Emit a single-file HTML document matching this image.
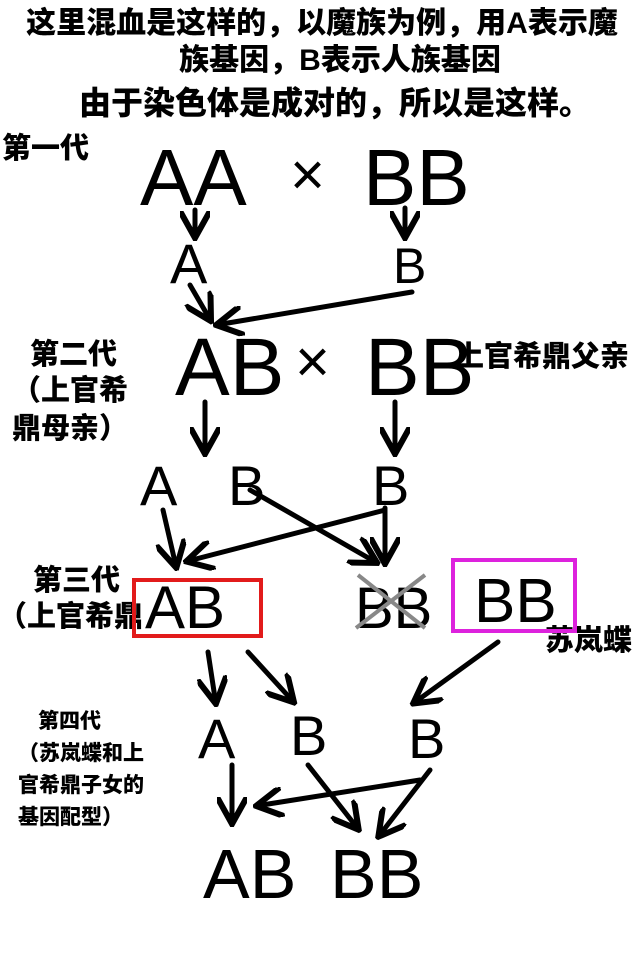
<!DOCTYPE html>
<html><head><meta charset="utf-8"><style>
html,body{margin:0;padding:0;background:#fff;width:640px;height:960px;overflow:hidden}
svg{display:block}
.cn{font-family:"Liberation Sans","Noto Sans CJK SC",sans-serif;font-weight:900;fill:#000}
.L{font-family:"Liberation Sans",sans-serif;fill:#000}
</style></head><body>
<svg width="640" height="960" viewBox="0 0 640 960" xmlns="http://www.w3.org/2000/svg">
<defs><marker id="ah" viewBox="0 0 10 10" refX="7" refY="5" markerWidth="6" markerHeight="6" orient="auto"><path d="M0,0 L9,5 L0,10" fill="none" stroke="#000" stroke-width="2"/></marker></defs>
<text class="cn" x="322" y="33" font-size="30" text-anchor="middle">这里混血是这样的，以魔族为例，用A表示魔</text>
<text class="cn" x="340" y="70" font-size="30" text-anchor="middle">族基因，B表示人族基因</text>
<text class="cn" x="335" y="114" font-size="32" text-anchor="middle">由于染色体是成对的，所以是这样。</text>
<text class="cn" x="2" y="158" font-size="29">第一代</text>
<text class="cn" x="30" y="364" font-size="29">第二代</text>
<text class="cn" x="12" y="400" font-size="29">（上官希</text>
<text class="cn" x="12" y="438" font-size="29">鼎母亲）</text>
<text class="cn" x="455" y="366" font-size="29">上官希鼎父亲</text>
<text class="cn" x="33" y="590" font-size="29">第三代</text>
<text class="cn" x="-2" y="626" font-size="29">（上官希鼎</text>
<text class="cn" x="545" y="650" font-size="29">苏岚蝶</text>
<text class="cn" x="38" y="728" font-size="21">第四代</text>
<text class="cn" x="18" y="760" font-size="21">（苏岚蝶和上</text>
<text class="cn" x="18" y="792" font-size="21">官希鼎子女的</text>
<text class="cn" x="18" y="824" font-size="21">基因配型）</text>

<g class="L">
<text x="140" y="205" font-size="80">AA</text>
<text x="290" y="195" font-size="60">×</text>
<text x="363" y="205" font-size="80">BB</text>
<text x="170" y="283" font-size="56">A</text>
<text x="393" y="283" font-size="50">B</text>
<text x="175" y="395" font-size="82">AB</text>
<text x="295" y="382" font-size="60">×</text>
<text x="365" y="395" font-size="82">BB</text>
<text x="140" y="505" font-size="56">A</text>
<text x="228" y="505" font-size="56">B</text>
<text x="372" y="505" font-size="56">B</text>
<text x="145" y="628" font-size="60">AB</text>
<text x="355" y="628" font-size="58">BB</text>
<text x="474" y="622" font-size="62">BB</text>
<text x="198" y="758" font-size="56">A</text>
<text x="290" y="755" font-size="56">B</text>
<text x="408" y="758" font-size="56">B</text>
<text x="203" y="898" font-size="70">AB</text>
<text x="330" y="898" font-size="70">BB</text>
</g>

<g stroke="#000" stroke-width="5" fill="none" stroke-linecap="round" marker-end="url(#ah)">
<path d="M195,210 L195,232"/>
<path d="M405,208 L405,232"/>
<path d="M190,285 L208,316"/>
<path d="M412,292 L222,324"/>
<path d="M205,402 L205,448"/>
<path d="M395,402 L395,448"/>
<path d="M163,510 L175,562"/>
<path d="M250,490 L372,560"/>
<path d="M385,508 L385,558"/>
<path d="M385,510 L192,560"/>
<path d="M208,652 L215,698"/>
<path d="M248,652 L290,698"/>
<path d="M498,642 L418,700"/>
<path d="M232,765 L232,818"/>
<path d="M308,765 L355,825"/>
<path d="M420,780 L262,805"/>
<path d="M430,770 L382,832"/>
</g>
<path d="M358,575 L425,628 M425,575 L356,628" stroke="#888" stroke-width="4" fill="none"/>
<rect x="134" y="580" width="127" height="56" fill="none" stroke="#e21b1b" stroke-width="4"/>
<rect x="453" y="560" width="122" height="71" fill="none" stroke="#dd22dd" stroke-width="4"/>
</svg>
</body></html>
